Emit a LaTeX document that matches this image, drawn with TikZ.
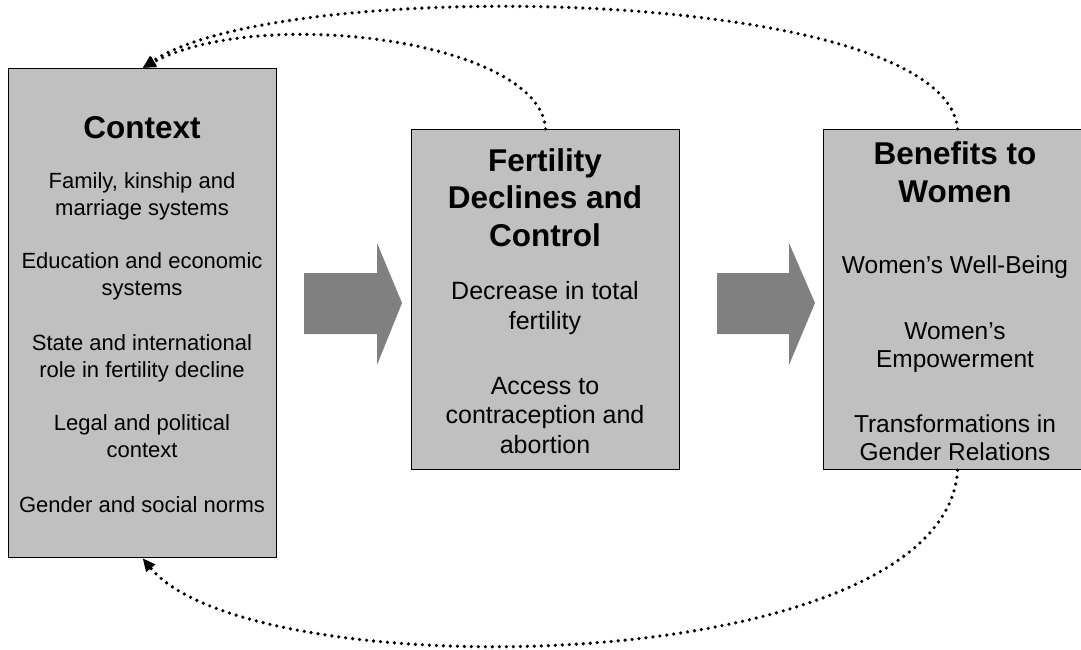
\documentclass[tikz,border=0pt]{standalone}
\usepackage{fontspec}
\setmainfont{Liberation Sans}
\usetikzlibrary{arrows.meta}
\definecolor{boxgray}{HTML}{C0C0C0}
\definecolor{arrowgray}{HTML}{808080}
\begin{document}
\begin{tikzpicture}[x=1pt,y=-1pt,
  box/.style={draw=black, line width=1.2pt, fill=boxgray, rectangle, inner sep=0pt, anchor=north west},
  ttl/.style={anchor=base, align=center, inner sep=0pt, font=\bfseries\fontsize{31.5}{37.5}\selectfont},
  bodyL/.style={anchor=base, align=center, inner sep=0pt, font=\fontsize{22}{27}\selectfont},
  bodyM/.style={anchor=base, align=center, inner sep=0pt, font=\fontsize{25}{29.5}\selectfont},
  bodyR/.style={anchor=base, align=center, inner sep=0pt, font=\fontsize{24.5}{28}\selectfont},
  feedback/.style={line width=3.6pt, dash pattern=on 0pt off 7pt, line cap=round, -{Triangle[length=13pt,width=11pt]}},
  bigarrow/.style={fill=arrowgray, draw=none}]
\useasboundingbox (0,0) rectangle (1081,650);

% boxes
\node[box, minimum width=268pt, minimum height=489pt] (ctx) at (8,68) {};
\node[box, minimum width=268pt, minimum height=340pt] (fert) at (411,129) {};
\node[box, minimum width=264pt, minimum height=340pt] (ben) at (823,129) {};

% big block arrows
\draw[bigarrow] (304,273) -- (377,273) -- (377,243) -- (402,303) -- (377,365) -- (377,334) -- (304,334) -- cycle;
\draw[bigarrow] (717,273) -- (789,273) -- (789,243) -- (815,303) -- (789,365) -- (789,334) -- (717,334) -- cycle;

% Context text (anchor = baseline of last line)
\node[ttl] (ctxT) at (142,139) {Context};
\node[bodyL] (ctx1) at (142,215) {Family, kinship and\\marriage systems};
\node[bodyL] (ctx2) at (142,295) {Education and economic\\systems};
\node[bodyL] (ctx3) at (142,377) {State and international\\role in fertility decline};
\node[bodyL] (ctx4) at (142,457) {Legal and political\\context};
\node[bodyL] (ctx5) at (142,512) {Gender and social norms};

% Fertility text
\node[ttl] (fertT) at (545,246) {Fertility\\Declines and\\Control};
\node[bodyM] (fert1) at (545,329) {Decrease in total\\fertility};
\node[bodyM] (fert2) at (545,453) {Access to\\contraception and\\abortion};

% Benefits text
\node[ttl] (benT) at (955,202) {Benefits to\\Women};
\node[bodyR] (ben1) at (955,273) {Women’s Well-Being};
\node[bodyR] (ben2) at (955,367) {Women’s\\Empowerment};
\node[bodyR] (ben3) at (955,460) {Transformations in\\Gender Relations};

% feedback loops
\draw[feedback] ([xshift=2pt]ben.north) .. controls (945,-15) and (280,-25) .. (ctx.north);
\draw[feedback] (fert.north) .. controls (540,40) and (260,5) .. (ctx.north);
\draw[feedback] ([xshift=2pt]ben.south) .. controls (945,680) and (250,690) .. (ctx.south);
\end{tikzpicture}
\end{document}
